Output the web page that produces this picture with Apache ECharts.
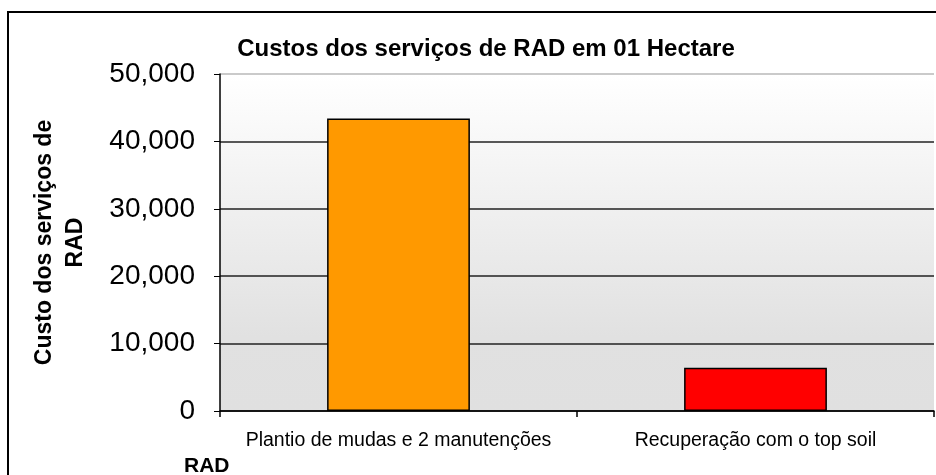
<!DOCTYPE html>
<html>
<head>
<meta charset="utf-8">
<script src="https://cdn.jsdelivr.net/npm/echarts@6/dist/echarts.min.js"></script>
<style>
  html, body { margin: 0; padding: 0; background: #fff; }
  #chart { width: 936px; height: 475px; }
</style>
</head>
<body>
<div id="chart"></div>
<script>
var categories = ['Plantio de mudas e 2 manutenções', 'Recuperação com o top soil'];
var costs = [43400, 6400];
var barColors = ['#FF9900', '#FF0000'];
var yTicks = [0, 10000, 20000, 30000, 40000, 50000];

var chart = echarts.init(document.getElementById('chart'));

var barData = costs.map(function (v, i) {
    return { value: v, itemStyle: { color: barColors[i] } };
});

var option = {
    animation: false,
    textStyle: { fontFamily: 'Liberation Sans, Arial, sans-serif' },
    title: [
        {
            text: 'Custos dos serviços de RAD em 01 Hectare',
            left: 481,
            top: 32,
            textAlign: 'center',
            textStyle: { fontSize: 24, fontWeight: 'bold', color: '#000' }
        },
        {
            text: 'RAD',
            left: 179,
            top: 451,
            textStyle: { fontSize: 21, fontWeight: 'bold', color: '#000' }
        }
    ],
    graphic: [{
        type: 'rect',
        shape: { x: 8, y: 12, width: 1000, height: 1000 },
        style: { fill: 'none', stroke: '#000', lineWidth: 2 },
        silent: true
    }],
    grid: {
        left: 220,
        right: 2,
        top: 74,
        bottom: 64,
        show: true,
        borderWidth: 0,
        backgroundColor: {
            type: 'linear', x: 0, y: 0, x2: 0, y2: 1,
            colorStops: [
                { offset: 0, color: '#ffffff' },
                { offset: 0.78, color: '#e1e1e1' },
                { offset: 1, color: '#e0e0e0' }
            ]
        }
    },
    xAxis: {
        type: 'category',
        data: categories,
        axisLine: { lineStyle: { color: '#000', width: 1.5 } },
        axisTick: { show: true, length: 6, lineStyle: { color: '#000', width: 1.5 } },
        axisLabel: { color: '#000', fontSize: 19.5, margin: 20, interval: 0, hideOverlap: false }
    },
    yAxis: {
        type: 'value',
        min: yTicks[0],
        max: yTicks[yTicks.length - 1],
        interval: yTicks[1] - yTicks[0],
        name: 'Custo dos serviços de\nRAD',
        nameLocation: 'middle',
        nameGap: 129,
        nameTextStyle: { fontSize: 23, fontWeight: 'bold', color: '#000', lineHeight: 31 },
        axisLine: { show: true, lineStyle: { color: '#000', width: 1.5 } },
        axisTick: { show: true, length: 6, lineStyle: { color: '#000' } },
        axisLabel: {
            color: '#000',
            fontSize: 28,
            margin: 25,
            formatter: function (v) { return v.toLocaleString('en-US'); }
        },
        splitLine: {
            show: true,
            lineStyle: { color: ['#222', '#222', '#222', '#222', '#222', '#b8b8b8'], width: 1.5 }
        }
    },
    series: [{
        type: 'bar',
        data: barData,
        barWidth: '40%',
        itemStyle: { borderColor: '#000', borderWidth: 1.5 }
    }]
};

chart.setOption(option);
</script>
</body>
</html>
